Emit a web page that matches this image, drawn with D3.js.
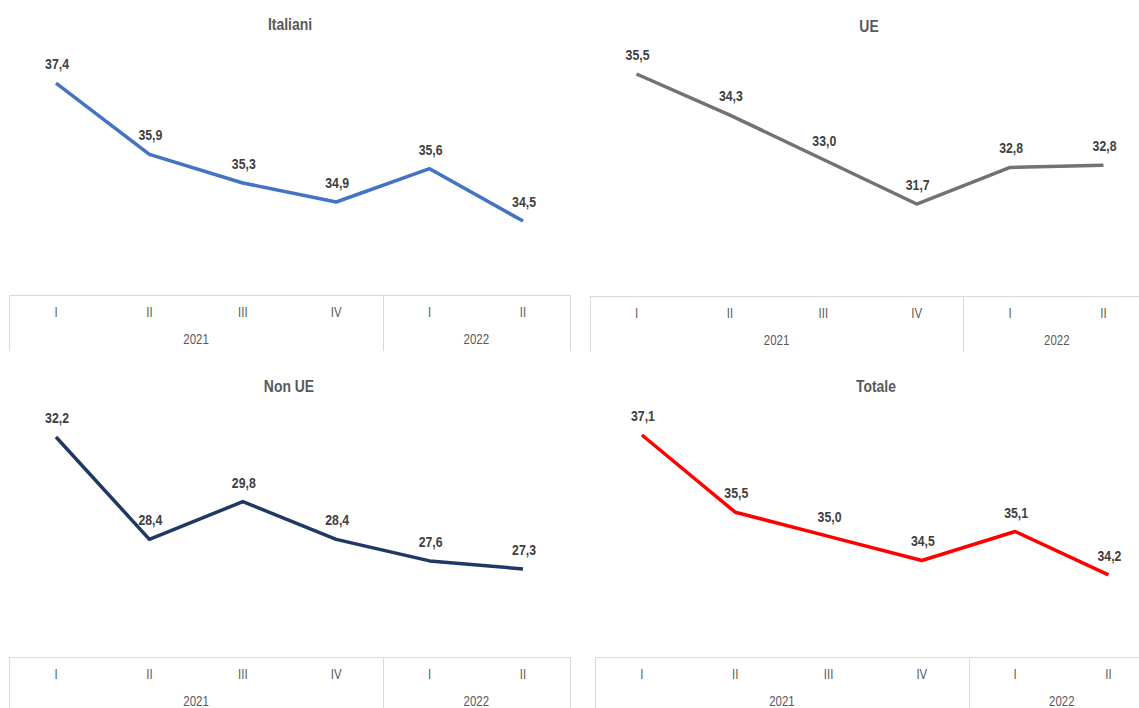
<!DOCTYPE html>
<html>
<head>
    <meta charset="utf-8">
    <script src="https://d3js.org/d3.v7.min.js" charset="utf-8"></script>
    <style>
        body { margin: 0; background: white; }
        text { font-family: "Liberation Sans Narrow", "Arial Narrow", "Liberation Sans", sans-serif; }
    </style>
</head>
<body>
   <script>
        // categories
        var quarters = ["I", "II", "III", "IV", "I", "II"];
        var years = ["2021", "2022"];
        var yearSpans = [4, 2];
        var titles = ["Italiani", "UE", "Non UE", "Totale"];

        // series values
        var italiani = [37.4, 35.9, 35.3, 34.9, 35.6, 34.5];
        var ue = [35.5, 34.3, 33.0, 31.7, 32.77, 32.83];
        var nonUe = [32.2, 28.4, 29.8, 28.4, 27.6, 27.3];
        var totale = [37.1, 35.5, 35.0, 34.5, 35.1, 34.2];

        var seriesList = [italiani, ue, nonUe, totale];
        var colors = ["#4472c4", "#767171", "#203864", "#ff0000"];

        // panel placement (value axis ranges as in the original)
        var panels = [
            { left: 9.3, step: 93.4, axisY: 295, titleX: 290, titleY: 30, domain: [33, 38], range: [292.4, 54.5] },
            { left: 589.8, step: 93.4, axisY: 296, titleX: 869, titleY: 32, domain: [29, 36], range: [296.4, 56.9] },
            { left: 9.3, step: 93.4, axisY: 657, titleX: 289, titleY: 392, domain: [24, 33], range: [657.9, 415.4] },
            { left: 595.3, step: 93.3, axisY: 657, titleX: 876, titleY: 392, domain: [32.5, 37.5], range: [657, 415.7] }
        ];

        var fmt = d3.formatLocale({ decimal: ",", thousands: ".", grouping: [3], currency: ["", "€"] }).format(".1f");

        // no narrow font installed: squeeze the regular one
        var narrow = 0.82;
        function place(x, y) {
            return "translate(" + x + "," + y + ") scale(" + narrow + ",1)";
        }

        var svg = d3.select("body")
            .append("svg")
            .attr("width", 1139)
            .attr("height", 708)
            .style("display", "block");

        panels.forEach(function (p, i) {
            var g = svg.append("g");
            var values = seriesList[i];

            var x = d3.scaleBand()
                .domain(d3.range(quarters.length))
                .range([p.left, p.left + p.step * quarters.length])
                .padding(0);
            var y = d3.scaleLinear().domain(p.domain).range(p.range);
            var cx = function (j) { return x(j) + x.bandwidth() / 2; };

            // title
            g.append("text")
                .attr("transform", place(p.titleX, p.titleY))
                .attr("text-anchor", "middle")
                .style("font-size", "17px")
                .style("font-weight", "bold")
                .style("fill", "#595959")
                .text(titles[i]);

            // multi level category axis
            var x0 = x.range()[0], x1 = x.range()[1];
            g.append("line")
                .attr("x1", x0).attr("x2", x1)
                .attr("y1", p.axisY + 0.5).attr("y2", p.axisY + 0.5)
                .style("stroke", "#d9d9d9");
            var bounds = [0];
            var acc = 0;
            yearSpans.forEach(function (s) { acc += s; bounds.push(acc); });
            bounds.forEach(function (b) {
                var bx = Math.round(x0 + b * p.step) + 0.5;
                g.append("line")
                    .attr("x1", bx).attr("x2", bx)
                    .attr("y1", p.axisY).attr("y2", p.axisY + 56)
                    .style("stroke", "#d9d9d9");
            });
            g.selectAll("text.q")
                .data(quarters)
                .enter()
                .append("text")
                .attr("class", "q")
                .attr("transform", function (d, j) { return place(cx(j), p.axisY + 22); })
                .attr("text-anchor", "middle")
                .style("font-size", "14px")
                .style("fill", "#595959")
                .text(function (d) { return d; });
            g.selectAll("text.yr")
                .data(years)
                .enter()
                .append("text")
                .attr("class", "yr")
                .attr("transform", function (d, k) {
                    return place(x0 + (bounds[k] + bounds[k + 1]) / 2 * p.step, p.axisY + 49);
                })
                .attr("text-anchor", "middle")
                .style("font-size", "14px")
                .style("fill", "#595959")
                .text(function (d) { return d; });

            // line
            var line = d3.line()
                .x(function (d, j) { return cx(j); })
                .y(function (d) { return y(d); });
            g.append("path")
                .datum(values)
                .attr("d", line)
                .style("fill", "none")
                .style("stroke", colors[i])
                .style("stroke-width", 3.5)
                .style("stroke-linejoin", "round");

            // data labels
            g.selectAll("text.lbl")
                .data(values)
                .enter()
                .append("text")
                .attr("class", "lbl")
                .attr("transform", function (d, j) { return place(cx(j) + 1, y(d) - 14); })
                .attr("text-anchor", "middle")
                .style("font-size", "15px")
                .style("font-weight", "bold")
                .style("fill", "#404040")
                .text(function (d) { return fmt(d); });
        });
    </script>
</body>
</html>
